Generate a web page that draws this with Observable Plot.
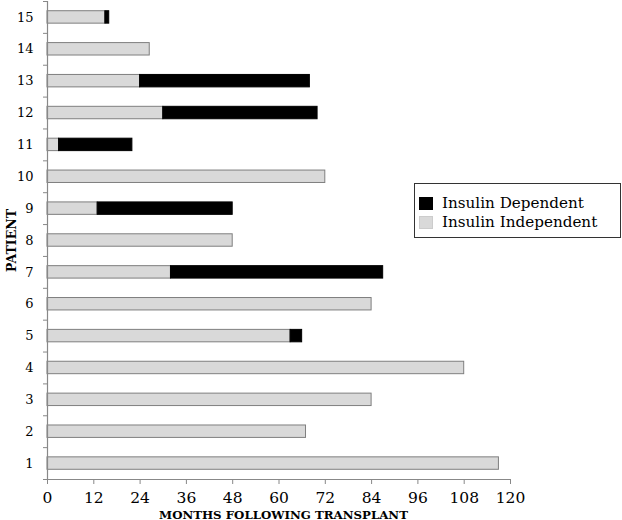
<!DOCTYPE html>
<html>
<head>
<meta charset="utf-8">
<script src="https://cdn.jsdelivr.net/npm/d3@7"></script>
<script src="https://cdn.jsdelivr.net/npm/@observablehq/plot@0.6"></script>
<style>
  html, body { margin: 0; padding: 0; background: #fff; }
  #wrap { position: relative; width: 622px; height: 520px; font-family: "DejaVu Serif", serif; }
  #legend { position: absolute; left: 414px; top: 183px; width: 207px; height: 55px; border: 1.5px solid #333; box-sizing: border-box; background: #fff; font-size: 15.2px; color: #000; }
  .item { position: absolute; left: 0; display: flex; align-items: center; }
  .sw { width: 14px; height: 13px; margin-left: 4px; margin-right: 9px; box-sizing: border-box; }
</style>
</head>
<body>
<div id="wrap"></div>
<script>
const patients = [1, 2, 3, 4, 5, 6, 7, 8, 9, 10, 11, 12, 13, 14, 15];
const independentMonths = [117, 67, 84, 108, 63, 84, 32, 48, 13, 72, 3, 30, 24, 26.5, 15];
const totalMonths = [117, 67, 84, 108, 66, 84, 87, 48, 48, 72, 22, 70, 68, 26.5, 16];
const xTicks = [0, 12, 24, 36, 48, 60, 72, 84, 96, 108, 120];
const seriesNames = ["Insulin Dependent", "Insulin Independent"];
const seriesColors = ["#000000", "#d9d9d9"];

const indep = patients.map((p, i) => ({patient: p, x1: 0, x2: independentMonths[i]}));
const dep = patients.map((p, i) => ({patient: p, x1: independentMonths[i], x2: totalMonths[i]}))
  .filter(d => d.x2 > d.x1);
const boundaries = d3.range(0.5, 16, 1);
const half = 0.195;

const chart = Plot.plot({
  width: 622,
  height: 520,
  marginLeft: 47,
  marginRight: 112,
  marginTop: 1,
  marginBottom: 41,
  style: {fontFamily: "DejaVu Serif, serif", color: "#000", background: "#fff"},
  x: {domain: [0, 120], axis: null},
  y: {domain: [0.5, 15.5], axis: null},
  marks: [
    Plot.rectX(indep, {x1: "x1", x2: "x2", y1: d => d.patient - half, y2: d => d.patient + half, fill: seriesColors[1], stroke: "#7f7f7f", strokeWidth: 1}),
    Plot.rectX(dep, {x1: "x1", x2: "x2", y1: d => d.patient - half, y2: d => d.patient + half, fill: seriesColors[0], stroke: "#000", strokeWidth: 1}),
    Plot.axisY({ticks: boundaries, tickSize: 4, tickFormat: () => "", stroke: "#888"}),
    Plot.axisY({ticks: patients, tickSize: 0, tickPadding: 14, fontSize: 13, label: null, tickFormat: d => String(d)}),
    Plot.axisX({ticks: xTicks, tickSize: 5, tickFormat: () => "", stroke: "#888"}),
    Plot.axisX({ticks: xTicks, tickSize: 0, tickPadding: 12, fontSize: 15.5, label: null, tickFormat: d => String(d)}),
    Plot.ruleX([0], {stroke: "#888", strokeWidth: 1.2}),
    Plot.ruleY([0.5], {stroke: "#888", strokeWidth: 1.2}),
    Plot.text(["MONTHS FOLLOWING TRANSPLANT"], {frameAnchor: "bottom", dy: 39, dx: 4.5, lineAnchor: "bottom", fontWeight: "bold", fontSize: 11.8, fill: "#000"}),
    Plot.text(["PATIENT"], {frameAnchor: "left", textAnchor: "middle", dx: -36, rotate: -90, fontWeight: "bold", fontSize: 12.5, fill: "#000"})
  ]
});
const wrap = document.getElementById("wrap");
wrap.appendChild(chart);

const legend = document.createElement("div");
legend.id = "legend";
seriesNames.forEach((name, i) => {
  const item = document.createElement("div");
  item.className = "item";
  item.style.top = (i === 0 ? 10 : 29) + "px";
  const sw = document.createElement("span");
  sw.className = "sw";
  sw.style.background = seriesColors[i];
  if (i === 1) sw.style.border = "1px solid #ccc";
  const t = document.createElement("span");
  t.textContent = name;
  item.appendChild(sw);
  item.appendChild(t);
  legend.appendChild(item);
});
wrap.appendChild(legend);
</script>
</body>
</html>
